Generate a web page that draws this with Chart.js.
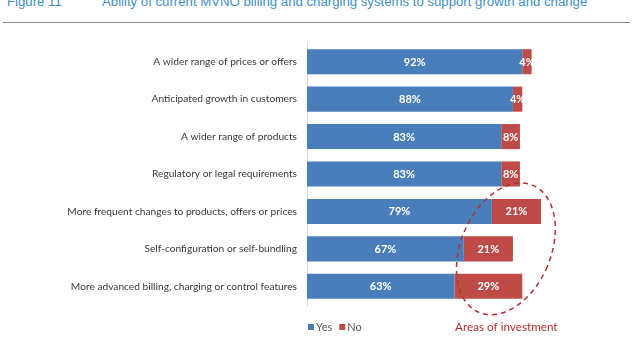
<!DOCTYPE html>
<html>
<head>
<meta charset="utf-8">
<script src="https://cdn.jsdelivr.net/npm/chart.js@4.4.0/dist/chart.umd.min.js"></script>
<style>
  html, body { margin: 0; padding: 0; background: #fff; }
  #wrap { position: relative; width: 633px; height: 350px; overflow: hidden; }
  #title {
    position: absolute; left: 7px; top: -6px; white-space: nowrap;
    font: 13.2px "Liberation Sans", Arial, sans-serif; color: #3f8fc4;
  }
  #title span { display: inline-block; width: 95px; }
  #rule { position: absolute; left: 3px; top: 22px; width: 627px; height: 0; border-top: 1.5px solid #7f8b90; }
  canvas { position: absolute; left: 0; top: 0; }
</style>
</head>
<body>
<div id="wrap">
  <div id="title"><span>Figure 11</span>Ability of current MVNO billing and charging systems to support growth and change</div>
  <div id="rule"></div>
  <canvas id="chart" width="633" height="350"></canvas>
</div>
<script>
const categories = [
  "A wider range of prices or offers",
  "Anticipated growth in customers",
  "A wider range of products",
  "Regulatory or legal requirements",
  "More frequent changes to products, offers or prices",
  "Self-configuration or self-bundling",
  "More advanced billing, charging or control features"
];
const yesValues = [92, 88, 83, 83, 79, 67, 63];
const noValues = [4, 4, 8, 8, 21, 21, 29];

const FONT = "Lato, 'Open Sans', sans-serif";

// white percentage labels centred in each segment
const segmentLabels = {
  id: "segmentLabels",
  afterDatasetsDraw(chart) {
    const ctx = chart.ctx;
    ctx.save();
    ctx.fillStyle = "#ffffff";
    ctx.font = "bold 11px " + FONT;
    ctx.textAlign = "center";
    ctx.textBaseline = "middle";
    chart.data.datasets.forEach((ds, i) => {
      chart.getDatasetMeta(i).data.forEach((bar, j) => {
        const cx = (bar.x + bar.base) / 2;
        ctx.fillText(ds.data[j] + "%", cx, bar.y + 0.5);
      });
    });
    ctx.restore();
  }
};

// legend, dashed ring round the biggest "No" shares and its caption
const extras = {
  id: "extras",
  afterDraw(chart) {
    const ctx = chart.ctx;
    const x = chart.scales.x, y = chart.scales.y;
    const area = chart.chartArea;
    ctx.save();

    // legend
    let lx = area.left + 1;
    const ly = 327;
    ctx.font = "11px " + FONT;
    ctx.textBaseline = "middle";
    chart.data.datasets.forEach(ds => {
      ctx.fillStyle = ds.backgroundColor;
      ctx.fillRect(lx, ly - 3, 6, 6);
      ctx.fillStyle = "#595959";
      ctx.fillText(ds.label, lx + 8, ly);
      lx += 8 + ctx.measureText(ds.label).width + 7;
    });

    // ring
    ctx.beginPath();
    ctx.ellipse(x.getPixelForValue(85), y.getPixelForValue(5), 45, 69, 23 * Math.PI / 180, 0, Math.PI * 2);
    ctx.setLineDash([5, 4]);
    ctx.lineWidth = 1.5;
    ctx.strokeStyle = "#b3302f";
    ctx.stroke();
    ctx.setLineDash([]);

    ctx.fillStyle = "#b3302f";
    ctx.font = "11.7px " + FONT;
    ctx.textAlign = "left";
    ctx.fillText("Areas of investment", x.getPixelForValue(63.3), ly);
    ctx.restore();
  }
};

new Chart(document.getElementById("chart"), {
  type: "bar",
  data: {
    labels: categories,
    datasets: [
      { label: "Yes", data: yesValues, backgroundColor: "#4a7ebb" },
      { label: "No", data: noValues, backgroundColor: "#be4b48" }
    ]
  },
  options: {
    indexAxis: "y",
    responsive: false,
    animation: false,
    categoryPercentage: 1,
    barPercentage: 0.67,
    layout: { padding: { left: 0, right: 92, top: 43, bottom: 45 } },
    plugins: {
      legend: { display: false },
      tooltip: { enabled: false }
    },
    scales: {
      x: { stacked: true, min: 0, max: 100, display: false },
      y: {
        stacked: true,
        grid: { display: false, drawTicks: false },
        border: { display: true, color: "#d9d9d9", width: 1 },
        ticks: { color: "#3a3a3a", font: { family: FONT, size: 10.2 }, padding: 10 },
        afterFit(scale) { scale.width = 307; }
      }
    }
  },
  plugins: [segmentLabels, extras]
});
</script>
</body>
</html>
